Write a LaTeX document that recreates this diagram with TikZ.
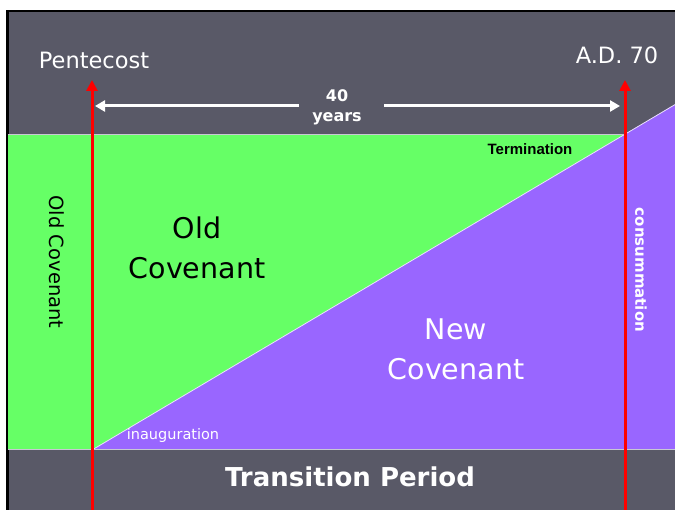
\documentclass[tikz,border=0pt]{standalone}
\usepackage{fontspec}
\setmainfont{DejaVu Sans}
\newfontfamily\arialfont{Liberation Sans}
\usepackage{tikz}
\usetikzlibrary{arrows.meta,positioning,calc}
\definecolor{slate}{RGB}{89,89,103}
\definecolor{oldgreen}{RGB}{102,255,102}
\definecolor{newpurple}{RGB}{153,102,255}
\definecolor{edgegray}{RGB}{200,200,212}
\definecolor{markred}{RGB}{255,0,0}

\begin{document}
\begin{tikzpicture}[x=1pt, y=-1pt,
    every node/.style={inner sep=0pt, text=white},
    dateline/.style={draw=markred, line width=3pt, -{Triangle[length=11pt,width=11pt]}},
    spanline/.style={draw=white, line width=3pt, -{Triangle[length=10pt,width=11pt]}},
    biglabel/.style={font=\fontsize{28.5}{40}\selectfont, align=center}]
    \useasboundingbox (0,0) rectangle (675,510);
    \clip (0,0) rectangle (675,510);

    % Frame and background
    \fill[white] (0,0) rectangle (675,510);
    \draw[black, line width=2.5pt, fill=slate] (7.25,11.25) rectangle (690,530);

    % Covenant bands
    \fill[oldgreen] (8,135) rectangle (676,450);
    \fill[newpurple] (92,450) -- (676,104) -- (676,450) -- cycle;
    \draw[white!80!newpurple, line width=0.8pt] (92,450) -- (676,104);
    \draw[edgegray, line width=1pt] (8,135) -- (625,135);
    \draw[edgegray, line width=1pt] (8,450) -- (676,450);

    % Dates
    \node (pent) at (94,60) {\fontsize{22.5}{26}\selectfont Pentecost};
    \node (ad) at (617,55) {\fontsize{22.5}{26}\selectfont A.D. 70};
    \node[font=\bfseries\fontsize{16}{20}\selectfont, align=center] (span) at (337,107) {40\\years};

    % Band labels
    \node[biglabel, text=black] (old) at (197,248) {Old\\Covenant};
    \node[biglabel] (new) at (456,349) {New\\Covenant};
    \node[rotate=-90, text=black, font=\fontsize{19.5}{23}\selectfont] (oldside) at (57,262) {Old Covenant};
    \node[rotate=-90, font=\bfseries\fontsize{15}{18}\selectfont] (cons) at (641,270) {consummation};
    \node[text=black, font=\arialfont\bfseries\fontsize{15}{18}\selectfont] (term) at (530,149) {Termination};
    \node[font=\fontsize{14.5}{17}\selectfont] (inaug) at (173,436) {inauguration};
    \node[font=\bfseries\fontsize{26}{30}\selectfont] (trans) at (350,477) {Transition Period};

    % Red date lines
    \coordinate (pentBase) at (92,512);
    \coordinate (pentTip) at (92,80);
    \coordinate (adBase) at (625,512);
    \coordinate (adTip) at (625,80);
    \draw[dateline] (pentBase) -- (pentTip);
    \draw[dateline] (adBase) -- (adTip);

    % Forty year span
    \coordinate (gapL) at (299,106);
    \coordinate (gapR) at (384,106);
    \coordinate (spanL) at (95,106);
    \coordinate (spanR) at (620,106);
    \draw[spanline] (gapL) -- (spanL);
    \draw[spanline] (gapR) -- (spanR);
\end{tikzpicture}
\end{document}
